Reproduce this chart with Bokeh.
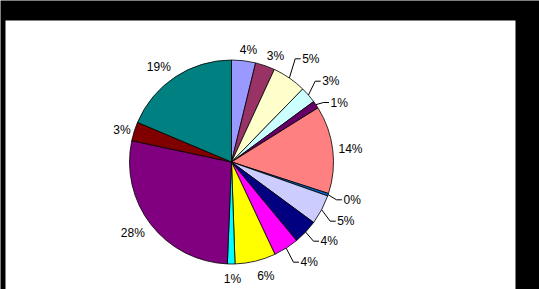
import math
from bokeh.plotting import figure, ColumnDataSource
from bokeh.models import Range1d
from bokeh.core.properties import value
from bokeh.embed import file_html
from bokeh.resources import INLINE

# ---- data (percent shares, clockwise from 12 o'clock) ----
shares = [3.8, 3.1, 5.4, 2.6, 1.2, 13.9, 0.4, 4.7, 3.9, 4.0, 6.45, 1.2, 27.7, 3.0, 18.65]
colors = ["#9999FF", "#993366", "#FFFFCC", "#CCFFFF", "#660066", "#FF8080", "#0066CC",
          "#CCCCFF", "#000080", "#FF00FF", "#FFFF00", "#00FFFF", "#800080", "#800000", "#008080"]
labels = ["4%", "3%", "5%", "3%", "1%", "14%", "0%", "5%", "4%", "4%", "6%", "1%", "28%", "3%", "19%"]

# ---- layout (label offsets from the pie centre, screen pixels, y downwards) ----
label_dx = [17, 44, 70.7, 90.7, 99, 119, 112, 105.7, 89, 69, 34.3, 1, -98.7, -109.5, -72.7]
label_dy = [-112.5, -106.5, -103.2, -80.8, -59.5, -13.2, 37.8, 59.2, 79.2, 100.2, 113.5, 116.8, 71.2, -32.2, -94.8]
has_leader = [False, False, True, True, True, False, True, True, True, True, False, False, False, False, False]

W, H = 539, 289
CX, CY_PX, R = 231, 161.5, 102
CY = H - CY_PX

p = figure(width=W, height=H, x_range=Range1d(0, W), y_range=Range1d(0, H),
           output_backend="svg", toolbar_location=None, min_border=0,
           x_axis_type=None, y_axis_type=None)
p.grid.visible = False
p.outline_line_color = None
p.background_fill_color = "black"
p.border_fill_color = "black"

# chart area
p.quad(left=5, right=515, bottom=0, top=H - 20, fill_color="white", line_color=None)

total = sum(shares)
starts, ends, mids = [], [], []
c = 0.0
for v in shares:
    a0 = math.pi / 2 - 2 * math.pi * c / total
    a1 = math.pi / 2 - 2 * math.pi * (c + v) / total
    starts.append(a0)
    ends.append(a1)
    mids.append((a0 + a1) / 2)
    c += v

src = ColumnDataSource(dict(start=starts, end=ends, color=colors))
p.wedge(x=CX, y=CY, radius=R, start_angle="start", end_angle="end", direction="clock",
        fill_color="color", line_color="black", line_width=0.8, source=src)

# labels
tx, ty, ta, tt = [], [], [], []
lx, ly = [], []
for i, lab in enumerate(labels):
    x = CX + label_dx[i]
    y = CY - label_dy[i]
    tx.append(x)
    ty.append(y)
    tt.append(lab)
    if has_leader[i]:
        ta.append("left")
        ex = CX + R * math.cos(mids[i])
        ey = CY + R * math.sin(mids[i])
        lx.append([ex, x - 7, x - 1.5])
        ly.append([ey, y, y])
    else:
        ta.append("center")

p.multi_line(xs=lx, ys=ly, line_color="black", line_width=1)
p.text(x=tx, y=ty, text=tt, text_align=ta, text_baseline="middle",
       text_font=value("Liberation Sans"), text_font_size="12px", text_color="black")

open("out.html", "w").write(file_html(p, INLINE))
